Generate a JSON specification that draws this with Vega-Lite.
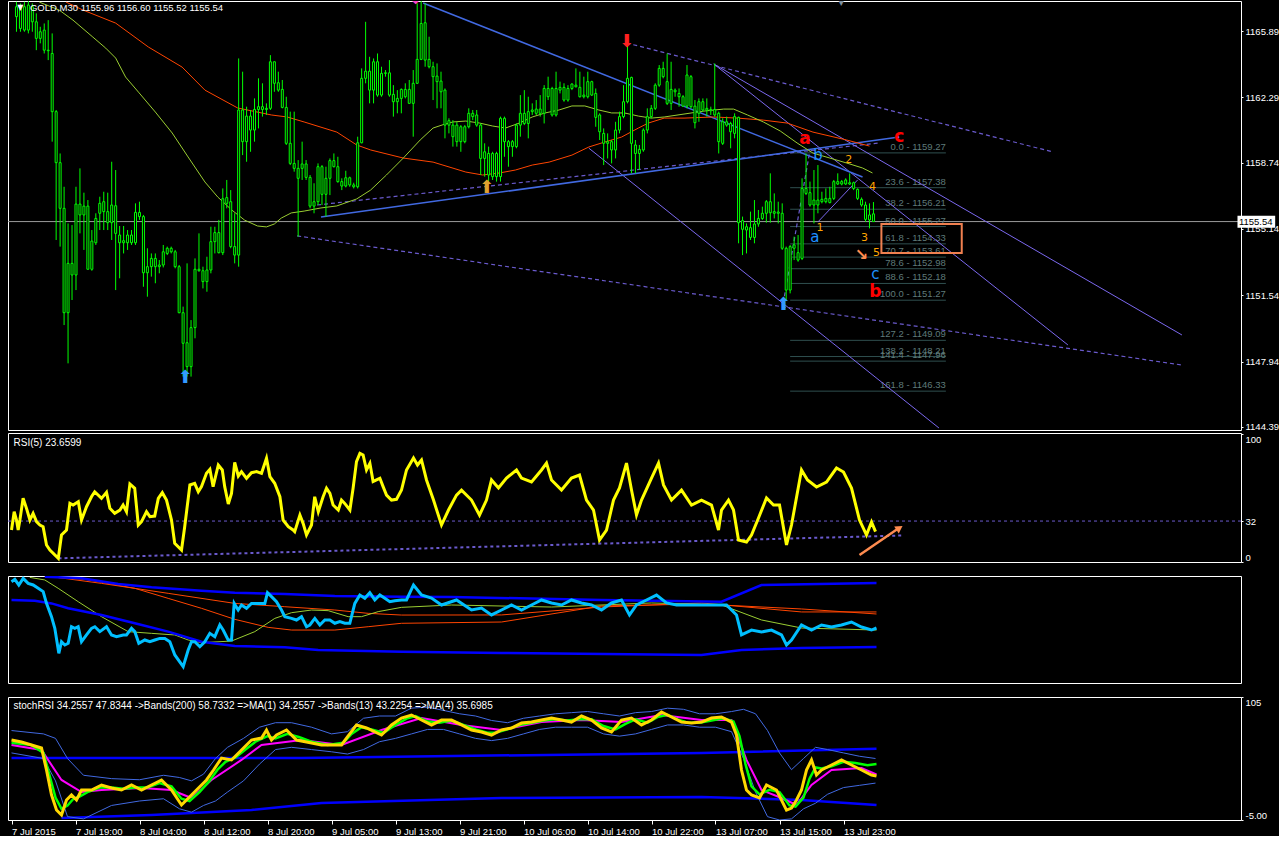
{
"$schema":"https://vega.github.io/schema/vega-lite/v6.json",
"background":"black",
"padding":{"left":7,"top":0,"right":0,"bottom":0},
"config":{"view":{"stroke":"white","strokeWidth":1},"axis":{"grid":false,"domain":false,"labelColor":"white","tickColor":"white","labelFont":"Liberation Sans","labelFontSize":9.5,"tickSize":2,"labelPadding":2,"labelOverlap":false,"labelBound":false},"text":{"font":"Liberation Sans"}},
"datasets":{
"ohlc":[
{"t":0,"o":1166.67,"h":1167.48,"l":1165.85,"c":1167.21},{"t":1,"o":1167.12,"h":1167.39,"l":1165.85,"c":1166.03},{"t":2,"o":1165.94,"h":1167.48,"l":1165.85,"c":1167.21},{"t":3,"o":1167.30,"h":1167.57,"l":1165.76,"c":1165.94},{"t":4,"o":1167.21,"h":1167.39,"l":1165.85,"c":1166.39},{"t":5,"o":1166.39,"h":1166.85,"l":1164.85,"c":1165.49},{"t":6,"o":1165.49,"h":1166.12,"l":1165.22,"c":1165.85},{"t":7,"o":1165.94,"h":1166.30,"l":1164.67,"c":1164.85},{"t":8,"o":1164.85,"h":1166.48,"l":1164.31,"c":1164.82},{"t":9,"o":1164.67,"h":1165.76,"l":1159.88,"c":1161.51},
{"t":10,"o":1161.51,"h":1161.60,"l":1154.54,"c":1158.74},{"t":11,"o":1158.74,"h":1159.24,"l":1154.18,"c":1156.26},{"t":12,"o":1156.26,"h":1157.43,"l":1149.92,"c":1150.59},{"t":13,"o":1150.59,"h":1155.44,"l":1147.84,"c":1153.27},{"t":14,"o":1153.27,"h":1155.35,"l":1151.28,"c":1152.64},{"t":15,"o":1152.64,"h":1157.43,"l":1151.82,"c":1156.49},{"t":16,"o":1156.49,"h":1158.43,"l":1154.90,"c":1155.90},{"t":17,"o":1155.90,"h":1157.11,"l":1154.00,"c":1156.38},{"t":18,"o":1156.38,"h":1156.71,"l":1152.95,"c":1152.95},{"t":19,"o":1152.95,"h":1155.08,"l":1152.87,"c":1154.48},
{"t":20,"o":1154.39,"h":1155.99,"l":1154.27,"c":1155.71},{"t":21,"o":1155.99,"h":1156.89,"l":1155.08,"c":1156.53},{"t":22,"o":1156.08,"h":1157.16,"l":1155.08,"c":1156.62},{"t":23,"o":1156.08,"h":1157.11,"l":1155.08,"c":1155.48},{"t":24,"o":1155.48,"h":1158.79,"l":1154.54,"c":1156.44},{"t":25,"o":1156.40,"h":1158.34,"l":1151.82,"c":1154.90},{"t":26,"o":1154.81,"h":1155.30,"l":1152.46,"c":1154.39},{"t":27,"o":1154.39,"h":1155.30,"l":1153.81,"c":1154.50},{"t":28,"o":1154.39,"h":1155.08,"l":1154.00,"c":1154.81},{"t":29,"o":1154.81,"h":1155.08,"l":1154.27,"c":1154.39},
{"t":30,"o":1154.39,"h":1156.53,"l":1154.27,"c":1156.04},{"t":31,"o":1156.04,"h":1156.62,"l":1155.63,"c":1155.81},{"t":32,"o":1155.81,"h":1155.90,"l":1152.00,"c":1152.76},{"t":33,"o":1152.76,"h":1154.09,"l":1151.46,"c":1153.09},{"t":34,"o":1153.09,"h":1153.81,"l":1152.55,"c":1153.54},{"t":35,"o":1153.54,"h":1153.81,"l":1152.19,"c":1153.09},{"t":36,"o":1153.09,"h":1153.45,"l":1152.73,"c":1153.18},{"t":37,"o":1153.18,"h":1154.27,"l":1153.05,"c":1153.90},{"t":38,"o":1153.81,"h":1154.18,"l":1153.72,"c":1154.09},{"t":39,"o":1154.09,"h":1154.18,"l":1153.81,"c":1153.90},
{"t":40,"o":1153.90,"h":1154.00,"l":1153.00,"c":1153.09},{"t":41,"o":1153.09,"h":1153.18,"l":1150.56,"c":1150.59},{"t":42,"o":1150.59,"h":1150.92,"l":1147.12,"c":1148.93},{"t":43,"o":1148.96,"h":1153.27,"l":1147.12,"c":1147.66},{"t":44,"o":1147.66,"h":1150.19,"l":1147.12,"c":1149.78},{"t":45,"o":1149.78,"h":1153.54,"l":1149.20,"c":1152.95},{"t":46,"o":1152.95,"h":1154.90,"l":1152.82,"c":1152.87},{"t":47,"o":1152.87,"h":1153.09,"l":1151.91,"c":1152.28},{"t":48,"o":1152.28,"h":1153.63,"l":1151.73,"c":1152.91},{"t":49,"o":1152.91,"h":1155.26,"l":1152.73,"c":1154.45},
{"t":50,"o":1154.45,"h":1155.26,"l":1153.81,"c":1154.94},{"t":51,"o":1154.94,"h":1155.63,"l":1153.81,"c":1153.85},{"t":52,"o":1153.85,"h":1157.34,"l":1153.72,"c":1156.78},{"t":53,"o":1156.84,"h":1157.80,"l":1156.26,"c":1156.53},{"t":54,"o":1156.62,"h":1157.25,"l":1154.09,"c":1154.18},{"t":55,"o":1154.18,"h":1155.99,"l":1153.27,"c":1153.72},{"t":56,"o":1153.72,"h":1164.40,"l":1153.09,"c":1161.60},{"t":57,"o":1161.60,"h":1163.68,"l":1159.15,"c":1159.88},{"t":58,"o":1159.88,"h":1161.78,"l":1158.79,"c":1161.27},{"t":59,"o":1161.27,"h":1161.60,"l":1159.33,"c":1160.51},
{"t":60,"o":1160.51,"h":1162.23,"l":1159.88,"c":1161.63},{"t":61,"o":1161.63,"h":1163.32,"l":1160.60,"c":1161.78},{"t":62,"o":1161.78,"h":1163.05,"l":1161.24,"c":1161.63},{"t":63,"o":1161.63,"h":1161.96,"l":1161.33,"c":1161.69},{"t":64,"o":1161.69,"h":1164.58,"l":1161.60,"c":1164.22},{"t":65,"o":1164.22,"h":1164.22,"l":1162.59,"c":1163.05},{"t":66,"o":1163.08,"h":1163.68,"l":1162.59,"c":1162.68},{"t":67,"o":1162.72,"h":1163.23,"l":1161.69,"c":1161.74},{"t":68,"o":1161.74,"h":1162.32,"l":1159.70,"c":1159.79},{"t":69,"o":1159.79,"h":1161.51,"l":1158.61,"c":1158.70},
{"t":70,"o":1158.70,"h":1161.51,"l":1158.25,"c":1158.43},{"t":71,"o":1158.43,"h":1158.88,"l":1154.72,"c":1157.89},{"t":72,"o":1158.43,"h":1159.88,"l":1157.80,"c":1158.67},{"t":73,"o":1158.67,"h":1158.88,"l":1157.80,"c":1157.94},{"t":74,"o":1157.94,"h":1158.07,"l":1156.26,"c":1156.38},{"t":75,"o":1156.38,"h":1157.62,"l":1155.99,"c":1156.62},{"t":76,"o":1156.62,"h":1158.70,"l":1156.44,"c":1158.52},{"t":77,"o":1158.52,"h":1158.61,"l":1156.44,"c":1157.02},{"t":78,"o":1157.02,"h":1158.52,"l":1155.81,"c":1157.89},{"t":79,"o":1157.89,"h":1158.97,"l":1156.98,"c":1158.85},
{"t":80,"o":1158.85,"h":1159.24,"l":1158.48,"c":1158.52},{"t":81,"o":1158.52,"h":1159.06,"l":1157.65,"c":1157.71},{"t":82,"o":1157.71,"h":1157.89,"l":1157.25,"c":1157.47},{"t":83,"o":1157.47,"h":1158.30,"l":1157.40,"c":1157.92},{"t":84,"o":1157.92,"h":1157.98,"l":1157.43,"c":1157.53},{"t":85,"o":1157.53,"h":1157.65,"l":1157.34,"c":1157.43},{"t":86,"o":1157.43,"h":1160.15,"l":1157.34,"c":1159.82},{"t":87,"o":1159.82,"h":1163.86,"l":1159.79,"c":1163.32},{"t":88,"o":1163.32,"h":1166.39,"l":1163.05,"c":1163.71},{"t":89,"o":1163.71,"h":1164.49,"l":1161.96,"c":1162.68},
{"t":90,"o":1162.68,"h":1164.40,"l":1161.96,"c":1164.22},{"t":91,"o":1164.22,"h":1164.67,"l":1162.32,"c":1162.41},{"t":92,"o":1162.41,"h":1163.95,"l":1162.32,"c":1163.59},{"t":93,"o":1163.59,"h":1163.77,"l":1163.41,"c":1163.62},{"t":94,"o":1163.62,"h":1164.31,"l":1162.32,"c":1162.41},{"t":95,"o":1162.45,"h":1162.95,"l":1161.24,"c":1162.05},{"t":96,"o":1162.05,"h":1162.68,"l":1161.42,"c":1162.23},{"t":97,"o":1162.23,"h":1162.77,"l":1161.42,"c":1162.72},{"t":98,"o":1162.72,"h":1163.05,"l":1162.23,"c":1162.32},{"t":99,"o":1161.96,"h":1163.23,"l":1161.96,"c":1162.72},
{"t":100,"o":1161.96,"h":1163.77,"l":1160.15,"c":1163.05},{"t":101,"o":1163.05,"h":1167.39,"l":1163.01,"c":1164.35},{"t":102,"o":1164.35,"h":1167.57,"l":1164.31,"c":1166.30},{"t":103,"o":1166.34,"h":1167.39,"l":1163.95,"c":1164.31},{"t":104,"o":1164.35,"h":1165.58,"l":1163.86,"c":1163.95},{"t":105,"o":1163.95,"h":1164.22,"l":1162.14,"c":1163.41},{"t":106,"o":1163.44,"h":1164.13,"l":1161.69,"c":1163.14},{"t":107,"o":1163.17,"h":1163.68,"l":1161.69,"c":1162.59},{"t":108,"o":1162.68,"h":1162.77,"l":1160.06,"c":1160.78},{"t":109,"o":1160.78,"h":1161.15,"l":1160.33,"c":1161.02},
{"t":110,"o":1160.78,"h":1161.05,"l":1159.61,"c":1160.15},{"t":111,"o":1159.88,"h":1160.96,"l":1159.61,"c":1160.78},{"t":112,"o":1160.69,"h":1160.78,"l":1159.33,"c":1159.88},{"t":113,"o":1159.88,"h":1160.78,"l":1159.79,"c":1160.69},{"t":114,"o":1160.69,"h":1161.69,"l":1160.60,"c":1161.42},{"t":115,"o":1161.42,"h":1161.60,"l":1161.05,"c":1161.24},{"t":116,"o":1161.33,"h":1161.60,"l":1160.69,"c":1160.78},{"t":117,"o":1160.78,"h":1160.87,"l":1158.07,"c":1158.97},{"t":118,"o":1158.97,"h":1159.79,"l":1157.98,"c":1159.33},{"t":119,"o":1159.24,"h":1159.61,"l":1157.71,"c":1158.07},
{"t":120,"o":1157.98,"h":1159.33,"l":1157.80,"c":1159.24},{"t":121,"o":1159.24,"h":1159.33,"l":1157.71,"c":1157.98},{"t":122,"o":1157.98,"h":1161.24,"l":1157.71,"c":1161.15},{"t":123,"o":1161.15,"h":1161.24,"l":1159.06,"c":1159.88},{"t":124,"o":1159.88,"h":1159.97,"l":1158.52,"c":1159.61},{"t":125,"o":1159.61,"h":1159.97,"l":1159.06,"c":1159.88},{"t":126,"o":1159.61,"h":1160.87,"l":1159.52,"c":1160.78},{"t":127,"o":1160.78,"h":1162.41,"l":1160.15,"c":1161.42},{"t":128,"o":1161.42,"h":1162.68,"l":1160.78,"c":1160.87},{"t":129,"o":1160.87,"h":1162.32,"l":1160.06,"c":1161.51},
{"t":130,"o":1161.51,"h":1161.96,"l":1161.33,"c":1161.60},{"t":131,"o":1161.65,"h":1162.14,"l":1161.33,"c":1161.42},{"t":132,"o":1161.42,"h":1162.41,"l":1161.24,"c":1161.65},{"t":133,"o":1161.42,"h":1162.95,"l":1160.87,"c":1162.77},{"t":134,"o":1162.77,"h":1163.41,"l":1162.14,"c":1162.32},{"t":135,"o":1162.77,"h":1162.86,"l":1161.24,"c":1161.33},{"t":136,"o":1161.33,"h":1163.68,"l":1161.24,"c":1162.77},{"t":137,"o":1162.68,"h":1163.14,"l":1162.50,"c":1162.83},{"t":138,"o":1162.83,"h":1163.05,"l":1162.05,"c":1162.14},{"t":139,"o":1162.14,"h":1162.95,"l":1162.05,"c":1162.77},
{"t":140,"o":1162.77,"h":1163.05,"l":1162.68,"c":1163.01},{"t":141,"o":1162.95,"h":1163.86,"l":1162.83,"c":1162.86},{"t":142,"o":1162.83,"h":1163.68,"l":1162.28,"c":1162.32},{"t":143,"o":1162.32,"h":1163.41,"l":1162.23,"c":1162.41},{"t":144,"o":1162.32,"h":1163.68,"l":1162.23,"c":1163.14},{"t":145,"o":1163.14,"h":1163.19,"l":1162.36,"c":1162.41},{"t":146,"o":1162.50,"h":1162.77,"l":1160.69,"c":1161.20},{"t":147,"o":1161.33,"h":1161.42,"l":1159.97,"c":1160.42},{"t":148,"o":1160.33,"h":1160.60,"l":1158.61,"c":1159.79},{"t":149,"o":1159.79,"h":1160.33,"l":1158.97,"c":1159.88},
{"t":150,"o":1159.88,"h":1159.97,"l":1158.70,"c":1159.43},{"t":151,"o":1159.43,"h":1160.96,"l":1158.97,"c":1160.51},{"t":152,"o":1160.51,"h":1161.51,"l":1160.33,"c":1161.24},{"t":153,"o":1161.24,"h":1162.95,"l":1161.15,"c":1162.05},{"t":154,"o":1162.05,"h":1165.58,"l":1161.96,"c":1163.32},{"t":155,"o":1163.37,"h":1163.41,"l":1158.16,"c":1159.79},{"t":156,"o":1159.70,"h":1159.97,"l":1158.16,"c":1159.24},{"t":157,"o":1159.24,"h":1159.70,"l":1158.34,"c":1159.46},{"t":158,"o":1159.43,"h":1160.60,"l":1159.33,"c":1160.51},{"t":159,"o":1160.51,"h":1161.69,"l":1160.33,"c":1161.24},
{"t":160,"o":1161.24,"h":1161.87,"l":1161.15,"c":1161.69},{"t":161,"o":1161.69,"h":1163.05,"l":1161.60,"c":1162.95},{"t":162,"o":1162.95,"h":1164.04,"l":1162.86,"c":1163.86},{"t":163,"o":1163.86,"h":1164.22,"l":1163.32,"c":1163.41},{"t":164,"o":1163.14,"h":1164.67,"l":1161.87,"c":1161.96},{"t":165,"o":1161.96,"h":1164.22,"l":1161.60,"c":1162.72},{"t":166,"o":1162.68,"h":1162.77,"l":1162.32,"c":1162.59},{"t":167,"o":1162.50,"h":1162.77,"l":1161.78,"c":1162.32},{"t":168,"o":1162.32,"h":1162.41,"l":1161.78,"c":1161.81},{"t":169,"o":1161.81,"h":1164.04,"l":1161.69,"c":1163.50},
{"t":170,"o":1163.41,"h":1163.50,"l":1161.69,"c":1161.78},{"t":171,"o":1161.81,"h":1162.14,"l":1160.60,"c":1160.91},{"t":172,"o":1161.42,"h":1162.23,"l":1160.96,"c":1162.05},{"t":173,"o":1162.05,"h":1162.23,"l":1161.51,"c":1161.60},{"t":174,"o":1161.60,"h":1162.23,"l":1161.24,"c":1161.69},{"t":175,"o":1161.63,"h":1161.78,"l":1161.33,"c":1161.56},{"t":176,"o":1161.63,"h":1164.13,"l":1161.24,"c":1161.33},{"t":177,"o":1161.42,"h":1161.51,"l":1159.24,"c":1159.88},{"t":178,"o":1159.79,"h":1161.15,"l":1159.70,"c":1160.96},{"t":179,"o":1160.96,"h":1161.24,"l":1160.69,"c":1160.78},
{"t":180,"o":1160.87,"h":1160.96,"l":1159.52,"c":1160.42},{"t":181,"o":1160.33,"h":1161.42,"l":1160.06,"c":1161.24},{"t":182,"o":1161.20,"h":1161.24,"l":1154.36,"c":1155.48},{"t":183,"o":1155.59,"h":1155.81,"l":1153.72,"c":1155.12},{"t":184,"o":1155.08,"h":1155.44,"l":1153.81,"c":1155.26},{"t":185,"o":1155.21,"h":1156.08,"l":1154.54,"c":1154.68},{"t":186,"o":1154.68,"h":1156.71,"l":1154.36,"c":1155.41},{"t":187,"o":1155.41,"h":1156.17,"l":1155.26,"c":1155.71},{"t":188,"o":1155.71,"h":1156.35,"l":1155.63,"c":1155.99},{"t":189,"o":1155.99,"h":1156.71,"l":1155.48,"c":1156.62},
{"t":190,"o":1156.62,"h":1158.16,"l":1155.48,"c":1156.02},{"t":191,"o":1156.08,"h":1157.07,"l":1155.71,"c":1155.99},{"t":192,"o":1155.99,"h":1156.62,"l":1155.44,"c":1156.06},{"t":193,"o":1155.99,"h":1156.53,"l":1154.00,"c":1154.09},{"t":194,"o":1154.09,"h":1154.18,"l":1151.28,"c":1151.82},{"t":195,"o":1151.82,"h":1154.27,"l":1151.64,"c":1154.18},{"t":196,"o":1154.09,"h":1154.72,"l":1153.45,"c":1154.27},{"t":197,"o":1153.85,"h":1154.81,"l":1153.36,"c":1153.45},{"t":198,"o":1153.54,"h":1157.89,"l":1153.45,"c":1157.34},{"t":199,"o":1157.34,"h":1159.24,"l":1156.98,"c":1157.07},
{"t":200,"o":1157.11,"h":1157.71,"l":1156.35,"c":1156.44},{"t":201,"o":1156.44,"h":1158.34,"l":1155.44,"c":1156.71},{"t":202,"o":1156.71,"h":1158.61,"l":1155.99,"c":1156.44},{"t":203,"o":1156.62,"h":1157.16,"l":1156.53,"c":1156.75},{"t":204,"o":1156.62,"h":1157.34,"l":1156.53,"c":1156.80},{"t":205,"o":1156.80,"h":1157.43,"l":1156.53,"c":1156.57},{"t":206,"o":1156.80,"h":1157.80,"l":1156.71,"c":1157.71},{"t":207,"o":1157.71,"h":1158.16,"l":1157.53,"c":1157.58},{"t":208,"o":1157.58,"h":1157.80,"l":1157.51,"c":1157.71},{"t":209,"o":1157.58,"h":1157.89,"l":1157.53,"c":1157.80},
{"t":210,"o":1157.65,"h":1158.16,"l":1157.53,"c":1157.58},{"t":211,"o":1157.65,"h":1157.71,"l":1157.25,"c":1157.34},{"t":212,"o":1157.29,"h":1157.34,"l":1156.71,"c":1156.80},{"t":213,"o":1156.75,"h":1156.85,"l":1156.35,"c":1156.44},{"t":214,"o":1156.44,"h":1156.62,"l":1155.53,"c":1155.66},{"t":215,"o":1155.63,"h":1156.53,"l":1155.17,"c":1155.90},{"t":216,"o":1155.96,"h":1156.60,"l":1155.52,"c":1155.54}
],
"ma":[
{"s":"red","t":12.5,"p":1167.46},{"s":"red","t":16.75,"p":1167.03},{"s":"red","t":25,"p":1166.32},{"s":"red","t":33.25,"p":1165.02},{"s":"red","t":41.75,"p":1163.93},{"s":"red","t":47.5,"p":1162.68},{"s":"red","t":55.75,"p":1161.71},{"s":"red","t":64.25,"p":1161.33},{"s":"red","t":68.25,"p":1161.22},{"s":"red","t":72.5,"p":1160.95},{"s":"red","t":80.75,"p":1160.40},{"s":"red","t":85.75,"p":1159.70},{"s":"red","t":89.25,"p":1159.43},{"s":"red","t":97.5,"p":1158.99},{"s":"red","t":105,"p":1158.77},{"s":"red","t":113.25,"p":1158.23},{"s":"red","t":117.5,"p":1158.07},{"s":"red","t":121.75,"p":1158.18},{"s":"red","t":125.75,"p":1158.34},{"s":"red","t":130,"p":1158.61},{"s":"red","t":134.25,"p":1158.77},{"s":"red","t":140,"p":1159.15},{"s":"red","t":144.25,"p":1159.59},{"s":"red","t":148.25,"p":1159.86},{"s":"red","t":152.5,"p":1160.13},{"s":"red","t":156.75,"p":1160.62},{"s":"red","t":159.25,"p":1160.89},{"s":"red","t":163.25,"p":1161.16},{"s":"red","t":168.25,"p":1161.16},{"s":"red","t":175.75,"p":1161.22},{"s":"red","t":181.75,"p":1161.16},{"s":"red","t":188.25,"p":1161.05},{"s":"red","t":194.25,"p":1160.89},{"s":"red","t":200.75,"p":1160.40},{"s":"red","t":209.25,"p":1159.97},{"s":"red","t":215,"p":1159.64},
{"s":"yel","t":5.75,"p":1167.46},{"s":"yel","t":10.75,"p":1167.03},{"s":"yel","t":14.25,"p":1166.48},{"s":"yel","t":19.25,"p":1165.56},{"s":"yel","t":22.5,"p":1164.96},{"s":"yel","t":25,"p":1164.42},{"s":"yel","t":27.5,"p":1163.39},{"s":"yel","t":30.75,"p":1162.57},{"s":"yel","t":35,"p":1161.49},{"s":"yel","t":39.25,"p":1160.35},{"s":"yel","t":43.25,"p":1159.05},{"s":"yel","t":47.5,"p":1157.69},{"s":"yel","t":50.75,"p":1156.87},{"s":"yel","t":54.25,"p":1156.17},{"s":"yel","t":57.5,"p":1155.62},{"s":"yel","t":60.75,"p":1155.30},{"s":"yel","t":63,"p":1155.25},{"s":"yel","t":65,"p":1155.41},{"s":"yel","t":66.75,"p":1155.73},{"s":"yel","t":69.25,"p":1156.01},{"s":"yel","t":72.5,"p":1156.11},{"s":"yel","t":76.75,"p":1156.28},{"s":"yel","t":80.75,"p":1156.39},{"s":"yel","t":85.75,"p":1156.77},{"s":"yel","t":89.25,"p":1157.25},{"s":"yel","t":93.25,"p":1158.07},{"s":"yel","t":97.5,"p":1158.99},{"s":"yel","t":101.75,"p":1159.97},{"s":"yel","t":105,"p":1160.62},{"s":"yel","t":107.5,"p":1160.80},{"s":"yel","t":110,"p":1160.95},{"s":"yel","t":113.25,"p":1161.00},{"s":"yel","t":116.75,"p":1160.89},{"s":"yel","t":120,"p":1160.73},{"s":"yel","t":123.25,"p":1160.62},{"s":"yel","t":126.75,"p":1160.89},{"s":"yel","t":130,"p":1161.22},{"s":"yel","t":133.25,"p":1161.44},{"s":"yel","t":136.75,"p":1161.60},{"s":"yel","t":140,"p":1161.82},{"s":"yel","t":143.25,"p":1161.82},{"s":"yel","t":146.75,"p":1161.60},{"s":"yel","t":150,"p":1161.44},{"s":"yel","t":153.25,"p":1161.44},{"s":"yel","t":156.75,"p":1161.27},{"s":"yel","t":160,"p":1161.16},{"s":"yel","t":163.25,"p":1161.22},{"s":"yel","t":168.25,"p":1161.38},{"s":"yel","t":173.25,"p":1161.54},{"s":"yel","t":178.25,"p":1161.65},{"s":"yel","t":180.75,"p":1161.65},{"s":"yel","t":184.25,"p":1161.33},{"s":"yel","t":188.25,"p":1160.95},{"s":"yel","t":192.5,"p":1160.46},{"s":"yel","t":196.75,"p":1159.81},{"s":"yel","t":200.75,"p":1159.26},{"s":"yel","t":205,"p":1158.99},{"s":"yel","t":209.25,"p":1158.72},{"s":"yel","t":213.25,"p":1158.45},{"s":"yel","t":215.75,"p":1158.18}
],
"tl":[
{"id":"A","g":"solid","t":102.5,"p":1167.41},{"id":"A","g":"solid","t":213.25,"p":1157.96},
{"id":"E","g":"solid","t":76.75,"p":1155.79},{"id":"E","g":"solid","t":222.5,"p":1160.13},
{"id":"B","g":"thin","t":144.25,"p":1159.53},{"id":"B","g":"thin","t":232.5,"p":1144.33},
{"id":"D1","g":"thin","t":175.75,"p":1164.10},{"id":"D1","g":"thin","t":293.75,"p":1149.38},
{"id":"D2","g":"thin","t":175.75,"p":1164.10},{"id":"D2","g":"thin","t":265,"p":1148.84},
{"id":"H","g":"thin","t":202,"p":1155.52},{"id":"H","g":"thin","t":212,"p":1157.80},
{"id":"C","g":"dash","t":153.75,"p":1165.24},{"id":"C","g":"dash","t":261.25,"p":1159.32},
{"id":"F","g":"dash","t":75.75,"p":1156.44},{"id":"F","g":"dash","t":217.5,"p":1159.81},
{"id":"G","g":"dash","t":70.75,"p":1154.76},{"id":"G","g":"dash","t":293.75,"p":1147.75},
{"id":"W","g":"dash","t":193.25,"p":1151.11},{"id":"W","g":"dash","t":200,"p":1159.42}
],
"fib":[
{"lab":"0.0 - 1159.27","p":1159.27},{"lab":"23.6 - 1157.38","p":1157.38},{"lab":"38.2 - 1156.21","p":1156.21},{"lab":"50.0 - 1155.27","p":1155.27},{"lab":"61.8 - 1154.33","p":1154.33},{"lab":"70.7 - 1153.61","p":1153.61},{"lab":"78.6 - 1152.98","p":1152.98},{"lab":"88.6 - 1152.18","p":1152.18},{"lab":"100.0 - 1151.27","p":1151.27},{"lab":"127.2 - 1149.09","p":1149.09},{"lab":"138.2 - 1148.21","p":1148.21},{"lab":"141.4 - 1147.96","p":1147.96},{"lab":"161.8 - 1146.33","p":1146.33}
],
"rsi":[
{"t":0,"v":25.0},{"t":0.67,"v":39.3},{"t":1.25,"v":32.8},{"t":1.67,"v":25.0},{"t":2.1,"v":32.8},{"t":2.9,"v":49.8},{"t":3.75,"v":41.9},{"t":4.6,"v":32.8},{"t":5.4,"v":38.0},{"t":6.25,"v":31.5},{"t":7.1,"v":28.9},{"t":7.9,"v":27.6},{"t":8.75,"v":13.3},{"t":9.6,"v":9.4},{"t":11.7,"v":2.9},{"t":12.5,"v":21.1},{"t":13.75,"v":25.0},{"t":14.6,"v":45.8},{"t":15.4,"v":44.5},{"t":16.7,"v":47.1},{"t":17.5,"v":32.8},{"t":18.75,"v":43.2},{"t":20,"v":51.0},{"t":20.8,"v":54.9},{"t":22.5,"v":49.7},{"t":23.75,"v":54.4},{"t":24.6,"v":41.9},{"t":25.8,"v":38.0},{"t":27.1,"v":40.6},{"t":27.9,"v":44.5},{"t":28.75,"v":39.3},{"t":29.6,"v":61.0},{"t":30.8,"v":57.6},{"t":31.7,"v":28.9},{"t":32.5,"v":31.5},{"t":33.75,"v":39.3},{"t":34.6,"v":35.4},{"t":35.8,"v":35.9},{"t":36.7,"v":49.7},{"t":37.7,"v":54.2},{"t":38.75,"v":48.4},{"t":40,"v":32.8},{"t":40.8,"v":14.6},{"t":42.5,"v":9.4},{"t":43.3,"v":27.6},{"t":44.6,"v":60.2},{"t":45.8,"v":61.5},{"t":46.7,"v":54.9},{"t":47.5,"v":58.9},{"t":48.75,"v":69.3},{"t":49.6,"v":72.4},{"t":50.4,"v":58.9},{"t":51.7,"v":75.8},{"t":52.7,"v":71.9},{"t":53.3,"v":58.9},{"t":54.2,"v":45.3},{"t":55,"v":53.6},{"t":55.8,"v":77.9},{"t":56.7,"v":67.2},{"t":57.5,"v":70.6},{"t":58.75,"v":65.4},{"t":60,"v":69.8},{"t":61.25,"v":70.6},{"t":62.5,"v":69.3},{"t":63.75,"v":81.0},{"t":64.6,"v":66.7},{"t":65.8,"v":61.5},{"t":67.1,"v":51.0},{"t":67.9,"v":32.8},{"t":69.2,"v":27.6},{"t":70.4,"v":25.0},{"t":70.8,"v":23.7},{"t":72.1,"v":36.7},{"t":72.9,"v":30.2},{"t":73.75,"v":21.1},{"t":75,"v":28.9},{"t":75.8,"v":51.0},{"t":76.7,"v":39.3},{"t":77.9,"v":51.0},{"t":78.75,"v":57.6},{"t":79.6,"v":53.6},{"t":80.4,"v":44.5},{"t":81.7,"v":40.6},{"t":82.5,"v":48.4},{"t":83.3,"v":45.8},{"t":84.6,"v":40.6},{"t":85.4,"v":57.6},{"t":86.25,"v":78.4},{"t":87.1,"v":84.9},{"t":87.9,"v":83.6},{"t":88.75,"v":71.9},{"t":89.6,"v":77.1},{"t":90.4,"v":62.8},{"t":91.25,"v":64.1},{"t":92.1,"v":65.4},{"t":92.9,"v":58.9},{"t":93.75,"v":52.3},{"t":95,"v":48.4},{"t":96.25,"v":49.0},{"t":97.5,"v":56.2},{"t":98.75,"v":71.9},{"t":100.5,"v":81.3},{"t":101.5,"v":75.8},{"t":102.5,"v":79.7},{"t":103.75,"v":64.1},{"t":105.5,"v":48.4},{"t":107.5,"v":28.9},{"t":109.25,"v":40.6},{"t":111.25,"v":52.3},{"t":112.5,"v":56.2},{"t":115,"v":48.4},{"t":117,"v":36.7},{"t":118.75,"v":48.4},{"t":120,"v":64.1},{"t":121.75,"v":57.8},{"t":123.75,"v":65.6},{"t":126.25,"v":71.9},{"t":127.5,"v":65.6},{"t":130,"v":62.5},{"t":132.5,"v":71.9},{"t":133.75,"v":77.3},{"t":135,"v":64.1},{"t":137.5,"v":56.2},{"t":140,"v":65.6},{"t":142,"v":68.0},{"t":143.75,"v":48.4},{"t":145.5,"v":40.6},{"t":147,"v":17.2},{"t":148.75,"v":25.0},{"t":150.5,"v":48.4},{"t":152,"v":57.8},{"t":153.75,"v":77.3},{"t":155,"v":56.2},{"t":156.25,"v":36.7},{"t":157.5,"v":48.4},{"t":160,"v":65.6},{"t":161.75,"v":77.3},{"t":163,"v":60.2},{"t":165,"v":48.4},{"t":167.5,"v":56.2},{"t":170,"v":44.5},{"t":172.5,"v":48.4},{"t":175,"v":44.5},{"t":176.75,"v":25.0},{"t":177.5,"v":40.6},{"t":179.25,"v":48.4},{"t":180.5,"v":40.6},{"t":181.75,"v":17.2},{"t":183.75,"v":15.6},{"t":185,"v":21.1},{"t":186.75,"v":34.4},{"t":188.75,"v":50.0},{"t":190.5,"v":44.5},{"t":192,"v":44.5},{"t":193.75,"v":13.3},{"t":195,"v":28.9},{"t":197.5,"v":71.9},{"t":199,"v":64.1},{"t":201.25,"v":58.6},{"t":203.75,"v":62.5},{"t":206.25,"v":73.4},{"t":208,"v":70.3},{"t":210,"v":57.8},{"t":212,"v":32.8},{"t":213.75,"v":21.1},{"t":215,"v":31.3},{"t":216,"v":23.7}
],
"p3":[
{"s":"cyan","t":0,"v":94.7},{"s":"cyan","t":0.83,"v":96.9},{"s":"cyan","t":1.83,"v":91.6},{"s":"cyan","t":2.92,"v":97.8},{"s":"cyan","t":4.17,"v":93.1},{"s":"cyan","t":5.42,"v":91.6},{"s":"cyan","t":6.67,"v":88.5},{"s":"cyan","t":7.92,"v":85.4},{"s":"cyan","t":8.75,"v":74.4},{"s":"cyan","t":10,"v":62.0},{"s":"cyan","t":10.83,"v":51.1},{"s":"cyan","t":11.83,"v":27.7},{"s":"cyan","t":12.5,"v":38.6},{"s":"cyan","t":13.33,"v":35.5},{"s":"cyan","t":14.17,"v":37.1},{"s":"cyan","t":15,"v":52.6},{"s":"cyan","t":15.83,"v":51.1},{"s":"cyan","t":16.67,"v":52.6},{"s":"cyan","t":17.5,"v":38.6},{"s":"cyan","t":18.75,"v":44.9},{"s":"cyan","t":20,"v":51.1},{"s":"cyan","t":20.83,"v":52.6},{"s":"cyan","t":22.08,"v":48.0},{"s":"cyan","t":23.75,"v":52.6},{"s":"cyan","t":25,"v":44.9},{"s":"cyan","t":26.25,"v":43.3},{"s":"cyan","t":27.92,"v":44.9},{"s":"cyan","t":28.75,"v":44.9},{"s":"cyan","t":30,"v":51.1},{"s":"cyan","t":30.83,"v":48.0},{"s":"cyan","t":31.83,"v":37.1},{"s":"cyan","t":33.33,"v":40.2},{"s":"cyan","t":34.58,"v":38.6},{"s":"cyan","t":35.83,"v":40.2},{"s":"cyan","t":37.08,"v":41.7},{"s":"cyan","t":38.33,"v":41.7},{"s":"cyan","t":39.58,"v":38.6},{"s":"cyan","t":40.83,"v":26.2},{"s":"cyan","t":42.92,"v":15.3},{"s":"cyan","t":44.17,"v":30.8},{"s":"cyan","t":45,"v":38.6},{"s":"cyan","t":45.83,"v":38.6},{"s":"cyan","t":47.08,"v":33.9},{"s":"cyan","t":48.33,"v":38.6},{"s":"cyan","t":49.58,"v":46.4},{"s":"cyan","t":50.83,"v":43.3},{"s":"cyan","t":52.08,"v":54.2},{"s":"cyan","t":52.92,"v":49.5},{"s":"cyan","t":54.17,"v":40.2},{"s":"cyan","t":55,"v":40.2},{"s":"cyan","t":55.67,"v":74.4},{"s":"cyan","t":56.67,"v":68.2},{"s":"cyan","t":57.5,"v":72.9},{"s":"cyan","t":58.75,"v":69.8},{"s":"cyan","t":60,"v":74.4},{"s":"cyan","t":62.08,"v":74.4},{"s":"cyan","t":63.33,"v":74.4},{"s":"cyan","t":64,"v":84.4},{"s":"cyan","t":65,"v":80.7},{"s":"cyan","t":66.25,"v":76.0},{"s":"cyan","t":67.5,"v":68.2},{"s":"cyan","t":68.33,"v":62.0},{"s":"cyan","t":70,"v":60.4},{"s":"cyan","t":71.25,"v":58.9},{"s":"cyan","t":72.5,"v":62.0},{"s":"cyan","t":73.75,"v":52.6},{"s":"cyan","t":74.58,"v":54.2},{"s":"cyan","t":75.83,"v":60.4},{"s":"cyan","t":77.08,"v":54.2},{"s":"cyan","t":78.33,"v":58.9},{"s":"cyan","t":79.58,"v":58.9},{"s":"cyan","t":80.83,"v":55.8},{"s":"cyan","t":82.08,"v":57.3},{"s":"cyan","t":83.33,"v":55.8},{"s":"cyan","t":84.58,"v":55.8},{"s":"cyan","t":85.83,"v":74.4},{"s":"cyan","t":87.08,"v":82.2},{"s":"cyan","t":88.33,"v":79.1},{"s":"cyan","t":89.58,"v":84.4},{"s":"cyan","t":90.83,"v":77.6},{"s":"cyan","t":92.08,"v":82.2},{"s":"cyan","t":93.33,"v":79.1},{"s":"cyan","t":94.58,"v":76.0},{"s":"cyan","t":95.83,"v":76.9},{"s":"cyan","t":97.5,"v":77.6},{"s":"cyan","t":98.75,"v":77.6},{"s":"cyan","t":100.5,"v":91.6},{"s":"cyan","t":102.5,"v":82.2},{"s":"cyan","t":105,"v":79.4},{"s":"cyan","t":107.5,"v":72.9},{"s":"cyan","t":111.25,"v":77.6},{"s":"cyan","t":115,"v":68.2},{"s":"cyan","t":117.5,"v":70.1},{"s":"cyan","t":120,"v":63.6},{"s":"cyan","t":122.5,"v":68.2},{"s":"cyan","t":125,"v":72.9},{"s":"cyan","t":127.5,"v":68.2},{"s":"cyan","t":130,"v":72.9},{"s":"cyan","t":132.5,"v":77.6},{"s":"cyan","t":135,"v":74.8},{"s":"cyan","t":137.5,"v":72.9},{"s":"cyan","t":140,"v":77.6},{"s":"cyan","t":142.5,"v":74.8},{"s":"cyan","t":145,"v":72.9},{"s":"cyan","t":147.5,"v":68.2},{"s":"cyan","t":150,"v":74.8},{"s":"cyan","t":152.5,"v":77.6},{"s":"cyan","t":154.5,"v":63.6},{"s":"cyan","t":156.25,"v":72.9},{"s":"cyan","t":158.75,"v":77.6},{"s":"cyan","t":161.25,"v":82.2},{"s":"cyan","t":163.75,"v":74.8},{"s":"cyan","t":166.25,"v":72.9},{"s":"cyan","t":170,"v":72.9},{"s":"cyan","t":172.5,"v":72.9},{"s":"cyan","t":176.25,"v":72.9},{"s":"cyan","t":178.75,"v":72.9},{"s":"cyan","t":181.25,"v":63.6},{"s":"cyan","t":182.5,"v":44.9},{"s":"cyan","t":185,"v":49.5},{"s":"cyan","t":187.5,"v":47.7},{"s":"cyan","t":190,"v":49.5},{"s":"cyan","t":192.5,"v":44.9},{"s":"cyan","t":193.75,"v":35.5},{"s":"cyan","t":195,"v":40.2},{"s":"cyan","t":197.5,"v":54.2},{"s":"cyan","t":200,"v":49.5},{"s":"cyan","t":202.5,"v":54.2},{"s":"cyan","t":205,"v":52.3},{"s":"cyan","t":207.5,"v":54.2},{"s":"cyan","t":210,"v":57.0},{"s":"cyan","t":212.5,"v":52.3},{"s":"cyan","t":215,"v":49.5},{"s":"cyan","t":216.25,"v":51.4},
{"s":"up","t":8.33,"v":99.4},{"s":"up","t":17.5,"v":97.8},{"s":"up","t":26.67,"v":92.5},{"s":"up","t":35,"v":89.4},{"s":"up","t":47.5,"v":86.3},{"s":"up","t":55.83,"v":84.4},{"s":"up","t":68.33,"v":83.2},{"s":"up","t":80.83,"v":81.3},{"s":"up","t":97.5,"v":80.7},{"s":"up","t":110,"v":80.4},{"s":"up","t":147.5,"v":77.6},{"s":"up","t":177.5,"v":76.0},{"s":"up","t":187.5,"v":91.6},{"s":"up","t":216.25,"v":93.5},
{"s":"lo","t":0,"v":77.6},{"s":"lo","t":5.83,"v":76.9},{"s":"lo","t":10,"v":74.4},{"s":"lo","t":14.17,"v":69.8},{"s":"lo","t":22.5,"v":63.5},{"s":"lo","t":30.83,"v":55.8},{"s":"lo","t":39.17,"v":48.0},{"s":"lo","t":47.5,"v":38.6},{"s":"lo","t":55.83,"v":34.6},{"s":"lo","t":68.33,"v":33.3},{"s":"lo","t":76.67,"v":30.8},{"s":"lo","t":97.5,"v":29.3},{"s":"lo","t":122.5,"v":28.0},{"s":"lo","t":172.5,"v":26.2},{"s":"lo","t":182.5,"v":30.8},{"s":"lo","t":197.5,"v":32.7},{"s":"lo","t":216.25,"v":33.6},
{"s":"red","t":8.33,"v":99.4},{"s":"red","t":18.33,"v":96.9},{"s":"red","t":30.83,"v":88.5},{"s":"red","t":39.17,"v":79.1},{"s":"red","t":47.5,"v":69.8},{"s":"red","t":55.83,"v":59.5},{"s":"red","t":64.17,"v":52.0},{"s":"red","t":70,"v":49.5},{"s":"red","t":80.83,"v":49.5},{"s":"red","t":89.17,"v":52.6},{"s":"red","t":97.5,"v":55.8},{"s":"red","t":122.5,"v":57.0},{"s":"red","t":147.5,"v":72.0},{"s":"red","t":172.5,"v":73.8},{"s":"red","t":197.5,"v":69.2},{"s":"red","t":216.25,"v":64.5},
{"s":"gray","t":10,"v":99.4},{"s":"gray","t":22.5,"v":93.1},{"s":"gray","t":39.17,"v":83.8},{"s":"gray","t":55.83,"v":74.4},{"s":"gray","t":68.33,"v":71.3},{"s":"gray","t":80.83,"v":68.2},{"s":"gray","t":89.17,"v":65.1},{"s":"gray","t":97.5,"v":63.5},{"s":"gray","t":122.5,"v":63.6},{"s":"gray","t":147.5,"v":71.0},{"s":"gray","t":172.5,"v":74.8},{"s":"gray","t":197.5,"v":66.4},{"s":"gray","t":216.25,"v":66.4},
{"s":"yel","t":4.58,"v":98.7},{"s":"yel","t":8.33,"v":96.3},{"s":"yel","t":11.67,"v":88.5},{"s":"yel","t":16.67,"v":76.0},{"s":"yel","t":22.5,"v":62.0},{"s":"yel","t":29.17,"v":48.0},{"s":"yel","t":35,"v":46.4},{"s":"yel","t":40.83,"v":44.9},{"s":"yel","t":44.17,"v":40.2},{"s":"yel","t":47.5,"v":37.7},{"s":"yel","t":55,"v":39.2},{"s":"yel","t":60.83,"v":48.0},{"s":"yel","t":65.83,"v":60.4},{"s":"yel","t":70,"v":65.7},{"s":"yel","t":75,"v":68.2},{"s":"yel","t":79.17,"v":67.6},{"s":"yel","t":84.17,"v":62.0},{"s":"yel","t":87.5,"v":62.0},{"s":"yel","t":91.67,"v":66.7},{"s":"yel","t":97.5,"v":70.7},{"s":"yel","t":110,"v":72.9},{"s":"yel","t":135,"v":71.0},{"s":"yel","t":160,"v":74.8},{"s":"yel","t":177.5,"v":72.9},{"s":"yel","t":187.5,"v":58.9},{"s":"yel","t":197.5,"v":51.4},{"s":"yel","t":216.25,"v":49.5}
],
"p4":[
{"s":"stoch","t":0,"v":66.5},{"s":"stoch","t":2.5,"v":64.8},{"s":"stoch","t":5,"v":62.1},{"s":"stoch","t":7.5,"v":59.4},{"s":"stoch","t":8.75,"v":39.7},{"s":"stoch","t":10,"v":17.4},{"s":"stoch","t":11.25,"v":3.9},{"s":"stoch","t":12.5,"v":-0.5},{"s":"stoch","t":13.75,"v":12.9},{"s":"stoch","t":15,"v":17.4},{"s":"stoch","t":16.25,"v":12.9},{"s":"stoch","t":17.5,"v":21.8},{"s":"stoch","t":20,"v":21.8},{"s":"stoch","t":22.5,"v":26.3},{"s":"stoch","t":25,"v":23.6},{"s":"stoch","t":27.5,"v":21.8},{"s":"stoch","t":30,"v":26.3},{"s":"stoch","t":32.5,"v":21.8},{"s":"stoch","t":35,"v":26.3},{"s":"stoch","t":37.5,"v":30.8},{"s":"stoch","t":40,"v":21.8},{"s":"stoch","t":42.5,"v":8.4},{"s":"stoch","t":43.75,"v":12.9},{"s":"stoch","t":46.25,"v":21.8},{"s":"stoch","t":48.75,"v":30.8},{"s":"stoch","t":50.5,"v":39.7},{"s":"stoch","t":52.5,"v":50.4},{"s":"stoch","t":55,"v":48.7},{"s":"stoch","t":57.5,"v":57.6},{"s":"stoch","t":60,"v":66.5},{"s":"stoch","t":62.5,"v":68.3},{"s":"stoch","t":63.75,"v":75.5},{"s":"stoch","t":65,"v":66.5},{"s":"stoch","t":66.25,"v":71.0},{"s":"stoch","t":68.75,"v":75.5},{"s":"stoch","t":71.25,"v":66.5},{"s":"stoch","t":73.75,"v":64.8},{"s":"stoch","t":77.5,"v":62.1},{"s":"stoch","t":82.5,"v":62.1},{"s":"stoch","t":83.75,"v":68.3},{"s":"stoch","t":86.25,"v":80.0},{"s":"stoch","t":88.75,"v":77.3},{"s":"stoch","t":92.5,"v":71.0},{"s":"stoch","t":95,"v":80.0},{"s":"stoch","t":97.5,"v":86.2},{"s":"stoch","t":100,"v":88.9},{"s":"stoch","t":102.5,"v":84.4},{"s":"stoch","t":105,"v":80.0},{"s":"stoch","t":107.5,"v":84.4},{"s":"stoch","t":110,"v":84.4},{"s":"stoch","t":112.5,"v":80.0},{"s":"stoch","t":115,"v":75.5},{"s":"stoch","t":117.5,"v":73.7},{"s":"stoch","t":120,"v":71.0},{"s":"stoch","t":122.5,"v":75.5},{"s":"stoch","t":125,"v":77.3},{"s":"stoch","t":127.5,"v":81.7},{"s":"stoch","t":130,"v":82.6},{"s":"stoch","t":132.5,"v":84.4},{"s":"stoch","t":135,"v":86.2},{"s":"stoch","t":137.5,"v":84.4},{"s":"stoch","t":140,"v":82.6},{"s":"stoch","t":142.5,"v":88.0},{"s":"stoch","t":145,"v":84.4},{"s":"stoch","t":147.5,"v":77.3},{"s":"stoch","t":150,"v":73.7},{"s":"stoch","t":152.5,"v":84.4},{"s":"stoch","t":155,"v":86.2},{"s":"stoch","t":157.5,"v":80.0},{"s":"stoch","t":160,"v":84.4},{"s":"stoch","t":162.5,"v":91.6},{"s":"stoch","t":165,"v":87.1},{"s":"stoch","t":167.5,"v":82.6},{"s":"stoch","t":170,"v":81.7},{"s":"stoch","t":172.5,"v":82.6},{"s":"stoch","t":175,"v":86.2},{"s":"stoch","t":177.5,"v":87.1},{"s":"stoch","t":180,"v":82.6},{"s":"stoch","t":181.25,"v":71.0},{"s":"stoch","t":182.5,"v":39.7},{"s":"stoch","t":183.75,"v":21.8},{"s":"stoch","t":185,"v":17.4},{"s":"stoch","t":187,"v":14.7},{"s":"stoch","t":188.75,"v":26.3},{"s":"stoch","t":191.25,"v":21.8},{"s":"stoch","t":193.75,"v":3.9},{"s":"stoch","t":195,"v":5.7},{"s":"stoch","t":196.25,"v":12.9},{"s":"stoch","t":197.5,"v":21.8},{"s":"stoch","t":198.75,"v":39.7},{"s":"stoch","t":200,"v":48.7},{"s":"stoch","t":201.25,"v":35.2},{"s":"stoch","t":202.5,"v":39.7},{"s":"stoch","t":205,"v":44.2},{"s":"stoch","t":207.5,"v":48.7},{"s":"stoch","t":210,"v":44.2},{"s":"stoch","t":212.5,"v":39.7},{"s":"stoch","t":215,"v":35.2},{"s":"stoch","t":216.25,"v":34.3},
{"s":"sig","t":0,"v":64},{"s":"sig","t":5,"v":62},{"s":"sig","t":8,"v":55},{"s":"sig","t":9.5,"v":35},{"s":"sig","t":11,"v":15},{"s":"sig","t":12.5,"v":5},{"s":"sig","t":14,"v":8},{"s":"sig","t":15.5,"v":14},{"s":"sig","t":17,"v":16},{"s":"sig","t":19,"v":20},{"s":"sig","t":22,"v":24},{"s":"sig","t":25,"v":24},{"s":"sig","t":28,"v":23},{"s":"sig","t":31,"v":24},{"s":"sig","t":34,"v":24},{"s":"sig","t":37,"v":28},{"s":"sig","t":40,"v":25},{"s":"sig","t":42.5,"v":14},{"s":"sig","t":44.5,"v":12},{"s":"sig","t":47,"v":20},{"s":"sig","t":49.5,"v":30},{"s":"sig","t":51.5,"v":40},{"s":"sig","t":53.5,"v":47},{"s":"sig","t":56,"v":51},{"s":"sig","t":58.5,"v":58},{"s":"sig","t":61,"v":65},{"s":"sig","t":64,"v":70},{"s":"sig","t":66,"v":68},{"s":"sig","t":69,"v":72},{"s":"sig","t":72,"v":69},{"s":"sig","t":75,"v":65},{"s":"sig","t":79,"v":62},{"s":"sig","t":83,"v":64},{"s":"sig","t":85,"v":72},{"s":"sig","t":87.5,"v":78},{"s":"sig","t":90,"v":76},{"s":"sig","t":93,"v":73},{"s":"sig","t":96,"v":80},{"s":"sig","t":99,"v":86},{"s":"sig","t":101,"v":88},{"s":"sig","t":104,"v":83},{"s":"sig","t":107,"v":82},{"s":"sig","t":110,"v":84},{"s":"sig","t":113,"v":80},{"s":"sig","t":116,"v":76},{"s":"sig","t":119,"v":73},{"s":"sig","t":121,"v":73},{"s":"sig","t":124,"v":76},{"s":"sig","t":127,"v":80},{"s":"sig","t":130,"v":82},{"s":"sig","t":133,"v":84},{"s":"sig","t":136,"v":85},{"s":"sig","t":139,"v":84},{"s":"sig","t":142,"v":85},{"s":"sig","t":145,"v":85},{"s":"sig","t":148,"v":79},{"s":"sig","t":151,"v":76},{"s":"sig","t":153.5,"v":81},{"s":"sig","t":156,"v":85},{"s":"sig","t":159,"v":82},{"s":"sig","t":161.5,"v":87},{"s":"sig","t":164,"v":89},{"s":"sig","t":166.5,"v":85},{"s":"sig","t":169,"v":82},{"s":"sig","t":172,"v":82},{"s":"sig","t":175,"v":84},{"s":"sig","t":178,"v":86},{"s":"sig","t":180.5,"v":83},{"s":"sig","t":182,"v":70},{"s":"sig","t":183.5,"v":45},{"s":"sig","t":185,"v":25},{"s":"sig","t":187,"v":18},{"s":"sig","t":189.5,"v":22},{"s":"sig","t":192,"v":20},{"s":"sig","t":194.5,"v":8},{"s":"sig","t":196,"v":7},{"s":"sig","t":198,"v":15},{"s":"sig","t":199.5,"v":32},{"s":"sig","t":201,"v":42},{"s":"sig","t":202.5,"v":41},{"s":"sig","t":205,"v":43},{"s":"sig","t":208,"v":47},{"s":"sig","t":211,"v":46},{"s":"sig","t":214,"v":44},{"s":"sig","t":216.25,"v":45},
{"s":"ma4","t":0,"v":62.1},{"s":"ma4","t":7.5,"v":57.6},{"s":"ma4","t":12.5,"v":30.8},{"s":"ma4","t":17.5,"v":20.0},{"s":"ma4","t":22.5,"v":21.8},{"s":"ma4","t":32.5,"v":23.6},{"s":"ma4","t":40,"v":21.8},{"s":"ma4","t":45,"v":14.7},{"s":"ma4","t":50,"v":30.8},{"s":"ma4","t":57.5,"v":48.7},{"s":"ma4","t":62.5,"v":62.1},{"s":"ma4","t":72.5,"v":66.5},{"s":"ma4","t":82.5,"v":62.1},{"s":"ma4","t":92.5,"v":75.5},{"s":"ma4","t":102.5,"v":86.2},{"s":"ma4","t":112.5,"v":80.0},{"s":"ma4","t":122.5,"v":75.5},{"s":"ma4","t":132.5,"v":82.6},{"s":"ma4","t":142.5,"v":84.4},{"s":"ma4","t":152.5,"v":82.6},{"s":"ma4","t":162.5,"v":88.9},{"s":"ma4","t":172.5,"v":84.4},{"s":"ma4","t":180,"v":84.4},{"s":"ma4","t":183.75,"v":48.7},{"s":"ma4","t":187.5,"v":21.8},{"s":"ma4","t":192.5,"v":14.7},{"s":"ma4","t":196.25,"v":8.4},{"s":"ma4","t":200,"v":26.3},{"s":"ma4","t":205,"v":39.7},{"s":"ma4","t":212.5,"v":41.5},{"s":"ma4","t":216.25,"v":35.7},
{"s":"bu","t":0,"v":50.4},{"s":"bu","t":72.5,"v":50.4},{"s":"bu","t":172.5,"v":55.0},{"s":"bu","t":216.25,"v":58.7},
{"s":"bl","t":12.5,"v":-3.2},{"s":"bl","t":35,"v":-0.5},{"s":"bl","t":60,"v":3.9},{"s":"bl","t":77.5,"v":10.2},{"s":"bl","t":122.5,"v":14.7},{"s":"bl","t":172.5,"v":15.6},{"s":"bl","t":197.5,"v":12.9},{"s":"bl","t":216.25,"v":8.4},
{"s":"b13u","t":0,"v":75},{"s":"b13u","t":8,"v":72},{"s":"b13u","t":11,"v":68},{"s":"b13u","t":14,"v":50},{"s":"b13u","t":18,"v":35},{"s":"b13u","t":25,"v":32},{"s":"b13u","t":32,"v":31},{"s":"b13u","t":38,"v":35},{"s":"b13u","t":42,"v":33},{"s":"b13u","t":45,"v":30},{"s":"b13u","t":48,"v":36},{"s":"b13u","t":51,"v":50},{"s":"b13u","t":54,"v":60},{"s":"b13u","t":58,"v":68},{"s":"b13u","t":62,"v":78},{"s":"b13u","t":66,"v":82},{"s":"b13u","t":70,"v":82},{"s":"b13u","t":75,"v":78},{"s":"b13u","t":80,"v":72},{"s":"b13u","t":84,"v":74},{"s":"b13u","t":88,"v":86},{"s":"b13u","t":92,"v":88},{"s":"b13u","t":96,"v":88},{"s":"b13u","t":100,"v":95},{"s":"b13u","t":104,"v":96},{"s":"b13u","t":108,"v":93},{"s":"b13u","t":112,"v":90},{"s":"b13u","t":116,"v":88},{"s":"b13u","t":120,"v":84},{"s":"b13u","t":124,"v":82},{"s":"b13u","t":128,"v":86},{"s":"b13u","t":132,"v":88},{"s":"b13u","t":136,"v":90},{"s":"b13u","t":140,"v":91},{"s":"b13u","t":144,"v":92},{"s":"b13u","t":148,"v":90},{"s":"b13u","t":152,"v":88},{"s":"b13u","t":156,"v":91},{"s":"b13u","t":160,"v":92},{"s":"b13u","t":164,"v":95},{"s":"b13u","t":168,"v":94},{"s":"b13u","t":172,"v":90},{"s":"b13u","t":176,"v":90},{"s":"b13u","t":180,"v":92},{"s":"b13u","t":183,"v":94},{"s":"b13u","t":186,"v":90},{"s":"b13u","t":189,"v":75},{"s":"b13u","t":192,"v":55},{"s":"b13u","t":195,"v":40},{"s":"b13u","t":198,"v":50},{"s":"b13u","t":201,"v":60},{"s":"b13u","t":204,"v":58},{"s":"b13u","t":208,"v":55},{"s":"b13u","t":212,"v":52},{"s":"b13u","t":216,"v":50},
{"s":"b13l","t":0,"v":55},{"s":"b13l","t":8,"v":50},{"s":"b13l","t":11,"v":30},{"s":"b13l","t":14,"v":-2},{"s":"b13l","t":18,"v":-4},{"s":"b13l","t":25,"v":8},{"s":"b13l","t":32,"v":12},{"s":"b13l","t":38,"v":14},{"s":"b13l","t":42,"v":5},{"s":"b13l","t":45,"v":2},{"s":"b13l","t":48,"v":8},{"s":"b13l","t":51,"v":12},{"s":"b13l","t":54,"v":20},{"s":"b13l","t":58,"v":30},{"s":"b13l","t":62,"v":45},{"s":"b13l","t":66,"v":58},{"s":"b13l","t":70,"v":60},{"s":"b13l","t":75,"v":58},{"s":"b13l","t":80,"v":56},{"s":"b13l","t":84,"v":54},{"s":"b13l","t":88,"v":58},{"s":"b13l","t":92,"v":65},{"s":"b13l","t":96,"v":68},{"s":"b13l","t":100,"v":72},{"s":"b13l","t":104,"v":76},{"s":"b13l","t":108,"v":76},{"s":"b13l","t":112,"v":72},{"s":"b13l","t":116,"v":68},{"s":"b13l","t":120,"v":66},{"s":"b13l","t":124,"v":68},{"s":"b13l","t":128,"v":72},{"s":"b13l","t":132,"v":76},{"s":"b13l","t":136,"v":78},{"s":"b13l","t":140,"v":78},{"s":"b13l","t":144,"v":78},{"s":"b13l","t":148,"v":72},{"s":"b13l","t":152,"v":70},{"s":"b13l","t":156,"v":72},{"s":"b13l","t":160,"v":76},{"s":"b13l","t":164,"v":80},{"s":"b13l","t":168,"v":80},{"s":"b13l","t":172,"v":78},{"s":"b13l","t":176,"v":78},{"s":"b13l","t":180,"v":74},{"s":"b13l","t":183,"v":50},{"s":"b13l","t":186,"v":20},{"s":"b13l","t":189,"v":-2},{"s":"b13l","t":192,"v":-5},{"s":"b13l","t":195,"v":-4},{"s":"b13l","t":198,"v":5},{"s":"b13l","t":201,"v":10},{"s":"b13l","t":204,"v":18},{"s":"b13l","t":208,"v":24},{"s":"b13l","t":212,"v":26},{"s":"b13l","t":216,"v":28}
]
},
"spacing":12,
"vconcat":[
{"spacing":0,"vconcat":[
{"width":1233,"height":429,"layer":[
{"data":{"values":[{"p":1155.54}]},"mark":{"type":"rule","color":"#9a9a9a","strokeWidth":1},"encoding":{"y":{"field":"p","type":"quantitative","scale":{"domain":[1144.22,1167.52],"nice":false,"zero":false},"axis":{"orient":"right","title":null,"values":[1165.89,1164.09,1162.29,1160.49,1158.74,1156.94,1155.14,1153.34,1151.54,1149.74,1147.94,1146.19,1144.39],"format":".2f"}}}},
{"data":{"name":"fib"},"mark":{"type":"rule","color":"#2F4F4F","strokeWidth":1,"clip":true},"encoding":{"x":{"datum":195,"type":"quantitative","scale":{"domain":[-0.875,307.375],"nice":false,"zero":false},"axis":null},"x2":{"datum":234.25},"y":{"field":"p","type":"quantitative","scale":{"domain":[1144.22,1167.52],"nice":false,"zero":false}}}},
{"data":{"name":"fib"},"mark":{"type":"text","align":"right","baseline":"bottom","dy":-1,"color":"#5f7a7a","fontSize":9.5,"clip":true},"encoding":{"x":{"datum":234.25,"type":"quantitative","scale":{"domain":[-0.875,307.375],"nice":false,"zero":false},"axis":null},"y":{"field":"p","type":"quantitative","scale":{"domain":[1144.22,1167.52],"nice":false,"zero":false}},"text":{"field":"lab"}}},
{"data":{"name":"tl"},"transform":[{"filter":"datum.g=='dash'"}],"mark":{"type":"line","color":"#6A5ACD","strokeWidth":1.2,"strokeDash":[4,3],"clip":true},"encoding":{"x":{"field":"t","type":"quantitative","scale":{"domain":[-0.875,307.375],"nice":false,"zero":false},"axis":null},"y":{"field":"p","type":"quantitative","scale":{"domain":[1144.22,1167.52],"nice":false,"zero":false}},"detail":{"field":"id"}}},
{"data":{"name":"tl"},"transform":[{"filter":"datum.g=='thin'"}],"mark":{"type":"line","color":"#7B68EE","strokeWidth":1,"clip":true},"encoding":{"x":{"field":"t","type":"quantitative","scale":{"domain":[-0.875,307.375],"nice":false,"zero":false},"axis":null},"y":{"field":"p","type":"quantitative","scale":{"domain":[1144.22,1167.52],"nice":false,"zero":false}},"detail":{"field":"id"}}},
{"data":{"name":"tl"},"transform":[{"filter":"datum.g=='solid'"}],"mark":{"type":"line","color":"#4169E1","strokeWidth":1.5,"clip":true},"encoding":{"x":{"field":"t","type":"quantitative","scale":{"domain":[-0.875,307.375],"nice":false,"zero":false},"axis":null},"y":{"field":"p","type":"quantitative","scale":{"domain":[1144.22,1167.52],"nice":false,"zero":false}},"detail":{"field":"id"}}},
{"data":{"name":"ma"},"mark":{"type":"line","strokeWidth":1,"clip":true},"encoding":{"x":{"field":"t","type":"quantitative","scale":{"domain":[-0.875,307.375],"nice":false,"zero":false},"axis":null},"y":{"field":"p","type":"quantitative","scale":{"domain":[1144.22,1167.52],"nice":false,"zero":false}},"color":{"field":"s","type":"nominal","scale":{"domain":["red","yel"],"range":["#FF4500","#9ACD32"]},"legend":null}}},
{"data":{"name":"ohlc"},"mark":{"type":"rule","color":"#00FF00","strokeWidth":1,"clip":true},"encoding":{"x":{"field":"t","type":"quantitative","scale":{"domain":[-0.875,307.375],"nice":false,"zero":false},"axis":null},"y":{"field":"l","type":"quantitative","scale":{"domain":[1144.22,1167.52],"nice":false,"zero":false}},"y2":{"field":"h"}}},
{"data":{"name":"ohlc"},"mark":{"type":"bar","width":2,"fill":"black","stroke":"#00FF00","strokeWidth":1,"clip":true},"encoding":{"x":{"field":"t","type":"quantitative","scale":{"domain":[-0.875,307.375],"nice":false,"zero":false},"axis":null},"y":{"field":"o","type":"quantitative","scale":{"domain":[1144.22,1167.52],"nice":false,"zero":false}},"y2":{"field":"c"}}},
{"data":{"values":[{}]},"mark":{"type":"rect","fillOpacity":0,"stroke":"#F08050","strokeWidth":2},"encoding":{"x":{"datum":218,"type":"quantitative","scale":{"domain":[-0.875,307.375],"nice":false,"zero":false},"axis":null},"x2":{"datum":238.25},"y":{"datum":1155.41,"type":"quantitative","scale":{"domain":[1144.22,1167.52],"nice":false,"zero":false}},"y2":{"datum":1153.83}}},
{"data":{"values":[{"t":198.75,"p":1160.02,"txt":"a"},{"t":222.5,"p":1160.13,"txt":"c"},{"t":216.5,"p":1151.72,"txt":"b"}]},"mark":{"type":"text","color":"#FF0000","fontSize":17,"fontWeight":"bold","font":"DejaVu Sans","clip":true},"encoding":{"x":{"field":"t","type":"quantitative","scale":{"domain":[-0.875,307.375],"nice":false,"zero":false},"axis":null},"y":{"field":"p","type":"quantitative","scale":{"domain":[1144.22,1167.52],"nice":false,"zero":false}},"text":{"field":"txt"}}},
{"data":{"values":[{"t":201.25,"p":1154.70,"txt":"a"},{"t":202,"p":1159.15,"txt":"b"},{"t":216.5,"p":1152.69,"txt":"c"}]},"mark":{"type":"text","color":"#1E90FF","fontSize":15,"font":"DejaVu Sans","clip":true},"encoding":{"x":{"field":"t","type":"quantitative","scale":{"domain":[-0.875,307.375],"nice":false,"zero":false},"axis":null},"y":{"field":"p","type":"quantitative","scale":{"domain":[1144.22,1167.52],"nice":false,"zero":false}},"text":{"field":"txt"}}},
{"data":{"values":[{"t":202.5,"p":1155.2,"txt":"1"},{"t":209.75,"p":1158.88,"txt":"2"},{"t":213.75,"p":1154.65,"txt":"3"},{"t":215.75,"p":1157.42,"txt":"4"},{"t":216.75,"p":1153.83,"txt":"5"}]},"mark":{"type":"text","color":"#FFA500","fontSize":11,"font":"DejaVu Sans","clip":true},"encoding":{"x":{"field":"t","type":"quantitative","scale":{"domain":[-0.875,307.375],"nice":false,"zero":false},"axis":null},"y":{"field":"p","type":"quantitative","scale":{"domain":[1144.22,1167.52],"nice":false,"zero":false}},"text":{"field":"txt"}}},
{"data":{"values":[{"t":42.5,"p":1147.04},{"t":193.25,"p":1151.01}]},"mark":{"type":"text","text":"⬆","color":"#3399FF","fontSize":18,"font":"DejaVu Sans","clip":true},"encoding":{"x":{"field":"t","type":"quantitative","scale":{"domain":[-0.875,307.375],"nice":false,"zero":false},"axis":null},"y":{"field":"p","type":"quantitative","scale":{"domain":[1144.22,1167.52],"nice":false,"zero":false}}}},
{"data":{"values":[{"t":118.5,"p":1157.36}]},"mark":{"type":"text","text":"⬆","color":"#E0A030","fontSize":18,"font":"DejaVu Sans","clip":true},"encoding":{"x":{"field":"t","type":"quantitative","scale":{"domain":[-0.875,307.375],"nice":false,"zero":false},"axis":null},"y":{"field":"p","type":"quantitative","scale":{"domain":[1144.22,1167.52],"nice":false,"zero":false}}}},
{"data":{"values":[{"t":153.75,"p":1165.29}]},"mark":{"type":"text","text":"⬇","color":"#FF2020","fontSize":18,"font":"DejaVu Sans","clip":true},"encoding":{"x":{"field":"t","type":"quantitative","scale":{"domain":[-0.875,307.375],"nice":false,"zero":false},"axis":null},"y":{"field":"p","type":"quantitative","scale":{"domain":[1144.22,1167.52],"nice":false,"zero":false}}}},
{"data":{"values":[{"t":100.6,"p":1167.55}]},"mark":{"type":"text","text":"◆","color":"#FF44CC","fontSize":10,"font":"DejaVu Sans","clip":true},"encoding":{"x":{"field":"t","type":"quantitative","scale":{"domain":[-0.875,307.375],"nice":false,"zero":false},"axis":null},"y":{"field":"p","type":"quantitative","scale":{"domain":[1144.22,1167.52],"nice":false,"zero":false}}}},
{"data":{"values":[{"t":207.9,"p":1167.45}]},"mark":{"type":"text","text":"▼","color":"#8090A0","fontSize":9,"font":"DejaVu Sans","clip":true},"encoding":{"x":{"field":"t","type":"quantitative","scale":{"domain":[-0.875,307.375],"nice":false,"zero":false},"axis":null},"y":{"field":"p","type":"quantitative","scale":{"domain":[1144.22,1167.52],"nice":false,"zero":false}}}},
{"data":{"values":[{"t":213,"p":1153.72}]},"mark":{"type":"text","text":"↘","color":"#FF8C50","fontSize":16,"fontWeight":"bold","font":"DejaVu Sans","clip":true},"encoding":{"x":{"field":"t","type":"quantitative","scale":{"domain":[-0.875,307.375],"nice":false,"zero":false},"axis":null},"y":{"field":"p","type":"quantitative","scale":{"domain":[1144.22,1167.52],"nice":false,"zero":false}}}},
{"data":{"values":[{}]},"mark":{"type":"text","text":"▼","color":"white","fontSize":8,"font":"DejaVu Sans"},"encoding":{"x":{"datum":1,"type":"quantitative","scale":{"domain":[-0.875,307.375],"nice":false,"zero":false},"axis":null},"y":{"datum":1167.13,"type":"quantitative","scale":{"domain":[1144.22,1167.52],"nice":false,"zero":false}}}},
{"data":{"values":[{}]},"mark":{"type":"text","text":"GOLD,M30 1155.96 1156.60 1155.52 1155.54","color":"white","fontSize":9.5,"align":"left","baseline":"middle"},"encoding":{"x":{"datum":3.4,"type":"quantitative","scale":{"domain":[-0.875,307.375],"nice":false,"zero":false},"axis":null},"y":{"datum":1167.13,"type":"quantitative","scale":{"domain":[1144.22,1167.52],"nice":false,"zero":false}}}},
{"data":{"values":[{}]},"mark":{"type":"rect","fill":"white"},"encoding":{"x":{"datum":307.75,"type":"quantitative","scale":{"domain":[-0.875,307.375],"nice":false,"zero":false},"axis":null},"x2":{"datum":317.25},"y":{"datum":1155.86,"type":"quantitative","scale":{"domain":[1144.22,1167.52],"nice":false,"zero":false}},"y2":{"datum":1155.21}}},
{"data":{"values":[{}]},"mark":{"type":"text","text":"1155.54","color":"black","fontSize":9.5,"align":"left","baseline":"middle"},"encoding":{"x":{"datum":308.1,"type":"quantitative","scale":{"domain":[-0.875,307.375],"nice":false,"zero":false},"axis":null},"y":{"datum":1155.54,"type":"quantitative","scale":{"domain":[1144.22,1167.52],"nice":false,"zero":false}}}}
]},
{"width":1233,"height":129,"layer":[
{"data":{"values":[{"v":32}]},"mark":{"type":"rule","color":"#6A5ACD","strokeDash":[3,3]},"encoding":{"y":{"field":"v","type":"quantitative","scale":{"domain":[0,100.8],"nice":false,"zero":false},"axis":{"orient":"right","title":null,"values":[100,32,0],"labelBaseline":{"condition":[{"test":"datum.value>=100","value":"top"},{"test":"datum.value<=0","value":"bottom"}],"value":"middle"}}}}},
{"data":{"values":[{"t":11.75,"v":2.9},{"t":222.5,"v":20.7}]},"mark":{"type":"line","color":"#6A5ACD","strokeDash":[3,3],"clip":true},"encoding":{"x":{"field":"t","type":"quantitative","scale":{"domain":[-0.875,307.375],"nice":false,"zero":false},"axis":null},"y":{"field":"v","type":"quantitative","scale":{"domain":[0,100.8],"nice":false,"zero":false}}}},
{"data":{"name":"rsi"},"mark":{"type":"line","color":"#FFFF00","strokeWidth":3,"clip":true},"encoding":{"x":{"field":"t","type":"quantitative","scale":{"domain":[-0.875,307.375],"nice":false,"zero":false},"axis":null},"y":{"field":"v","type":"quantitative","scale":{"domain":[0,100.8],"nice":false,"zero":false}}}},
{"data":{"values":[{"t":212,"v":5.5},{"t":221.5,"v":25.8}]},"mark":{"type":"line","color":"#FF8C50","strokeWidth":2.5,"clip":true},"encoding":{"x":{"field":"t","type":"quantitative","scale":{"domain":[-0.875,307.375],"nice":false,"zero":false},"axis":null},"y":{"field":"v","type":"quantitative","scale":{"domain":[0,100.8],"nice":false,"zero":false}}}},
{"data":{"values":[{"t":222,"v":26.6}]},"mark":{"type":"point","shape":"triangle-up","filled":true,"color":"#FF8C50","size":70,"angle":57,"opacity":1},"encoding":{"x":{"field":"t","type":"quantitative","scale":{"domain":[-0.875,307.375],"nice":false,"zero":false},"axis":null},"y":{"field":"v","type":"quantitative","scale":{"domain":[0,100.8],"nice":false,"zero":false}}}},
{"data":{"values":[{}]},"mark":{"type":"text","text":"RSI(5) 23.6599","color":"white","fontSize":10,"align":"left","baseline":"middle"},"encoding":{"x":{"datum":0.5,"type":"quantitative","scale":{"domain":[-0.875,307.375],"nice":false,"zero":false},"axis":null},"y":{"datum":93,"type":"quantitative","scale":{"domain":[0,100.8],"nice":false,"zero":false}}}}
]}
]},
{"spacing":12,"vconcat":[
{"width":1233,"height":107,"layer":[
{"data":{"name":"p3"},"transform":[{"filter":"datum.s=='red'||datum.s=='gray'||datum.s=='yel'"}],"mark":{"type":"line","strokeWidth":1,"clip":true},"encoding":{"x":{"field":"t","type":"quantitative","scale":{"domain":[-0.875,307.375],"nice":false,"zero":false},"axis":null},"y":{"field":"v","type":"quantitative","scale":{"domain":[0,100],"nice":false,"zero":false},"axis":null},"color":{"field":"s","type":"nominal","scale":{"domain":["red","gray","yel"],"range":["#FF0000","#808080","#FFFF00"]},"legend":null}}},
{"data":{"name":"p3"},"transform":[{"filter":"datum.s=='up'||datum.s=='lo'"}],"mark":{"type":"line","strokeWidth":2.5,"color":"#0000FF","clip":true},"encoding":{"x":{"field":"t","type":"quantitative","scale":{"domain":[-0.875,307.375],"nice":false,"zero":false},"axis":null},"y":{"field":"v","type":"quantitative","scale":{"domain":[0,100],"nice":false,"zero":false},"axis":null},"detail":{"field":"s"}}},
{"data":{"name":"p3"},"transform":[{"filter":"datum.s=='cyan'"}],"mark":{"type":"line","strokeWidth":3,"color":"#00BFFF","clip":true},"encoding":{"x":{"field":"t","type":"quantitative","scale":{"domain":[-0.875,307.375],"nice":false,"zero":false},"axis":null},"y":{"field":"v","type":"quantitative","scale":{"domain":[0,100],"nice":false,"zero":false},"axis":null}}}
]},
{"width":1233,"height":123,"layer":[
{"data":{"name":"p4"},"transform":[{"filter":"datum.s=='bu'||datum.s=='bl'"}],"mark":{"type":"line","strokeWidth":2.5,"color":"#0000FF","clip":true},"encoding":{"x":{"field":"t","type":"quantitative","scale":{"domain":[-0.875,307.375],"nice":false,"zero":false},"axis":{"orient":"bottom","title":null,"values":[0,16,32,48,64,80,96,112,128,144,160,176,192,208],"labelAlign":"left","labelFontSize":9.5,"tickSize":4,"labelExpr":"['7 Jul 2015','7 Jul 19:00','8 Jul 04:00','8 Jul 12:00','8 Jul 20:00','9 Jul 05:00','9 Jul 13:00','9 Jul 21:00','10 Jul 06:00','10 Jul 14:00','10 Jul 22:00','13 Jul 07:00','13 Jul 15:00','13 Jul 23:00'][round(datum.value/16)]"}},"y":{"field":"v","type":"quantitative","scale":{"domain":[-5,105],"nice":false,"zero":false},"axis":{"orient":"right","title":null,"values":[105,-5],"labelExpr":"datum.value>100?'105':'-5.00'","labelBaseline":{"condition":{"test":"datum.value>100","value":"top"},"value":"bottom"}}},"detail":{"field":"s"}}},
{"data":{"name":"p4"},"transform":[{"filter":"datum.s=='b13u'||datum.s=='b13l'"}],"mark":{"type":"line","strokeWidth":1,"color":"#4169E1","clip":true},"encoding":{"x":{"field":"t","type":"quantitative","scale":{"domain":[-0.875,307.375],"nice":false,"zero":false}},"y":{"field":"v","type":"quantitative","scale":{"domain":[-5,105],"nice":false,"zero":false}},"detail":{"field":"s"}}},
{"data":{"name":"p4"},"transform":[{"filter":"datum.s=='ma4'"}],"mark":{"type":"line","strokeWidth":2,"color":"#FF00FF","clip":true},"encoding":{"x":{"field":"t","type":"quantitative","scale":{"domain":[-0.875,307.375],"nice":false,"zero":false}},"y":{"field":"v","type":"quantitative","scale":{"domain":[-5,105],"nice":false,"zero":false}}}},
{"data":{"name":"p4"},"transform":[{"filter":"datum.s=='sig'"}],"mark":{"type":"line","strokeWidth":2.5,"color":"#00FF00","clip":true},"encoding":{"x":{"field":"t","type":"quantitative","scale":{"domain":[-0.875,307.375],"nice":false,"zero":false}},"y":{"field":"v","type":"quantitative","scale":{"domain":[-5,105],"nice":false,"zero":false}}}},
{"data":{"name":"p4"},"transform":[{"filter":"datum.s=='stoch'"}],"mark":{"type":"line","strokeWidth":3,"color":"#FFD700","clip":true},"encoding":{"x":{"field":"t","type":"quantitative","scale":{"domain":[-0.875,307.375],"nice":false,"zero":false}},"y":{"field":"v","type":"quantitative","scale":{"domain":[-5,105],"nice":false,"zero":false}}}},
{"data":{"values":[{}]},"mark":{"type":"text","text":"stochRSI 34.2557 47.8344  ->Bands(200) 58.7332  =>MA(1) 34.2557  ->Bands(13) 43.2254  =>MA(4) 35.6985","color":"white","fontSize":10,"align":"left","baseline":"middle"},"encoding":{"x":{"datum":0.5,"type":"quantitative","scale":{"domain":[-0.875,307.375],"nice":false,"zero":false}},"y":{"datum":96.9,"type":"quantitative","scale":{"domain":[-5,105],"nice":false,"zero":false}}}}
]}
]}
]
}
